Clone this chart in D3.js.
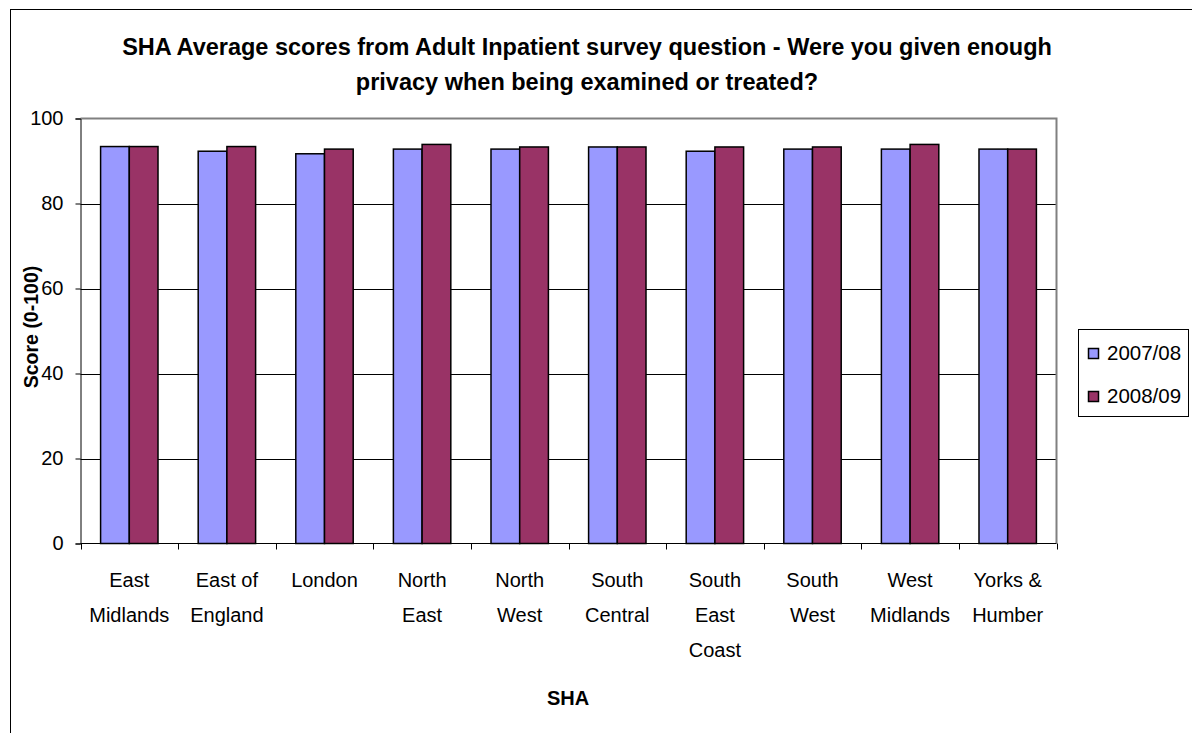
<!DOCTYPE html>
<html>
<head>
<meta charset="utf-8">
<script src="https://cdn.jsdelivr.net/npm/d3@7"></script>
<style>
  html, body { margin: 0; padding: 0; background: #fff; }
  svg { display: block; font-family: "Liberation Sans", Arial, sans-serif; }
</style>
</head>
<body>
<svg id="chart" width="1192" height="733"></svg>
<script>
// Strategic Health Authorities and their average privacy scores
const categories = [
  ["East", "Midlands"],
  ["East of", "England"],
  ["London"],
  ["North", "East"],
  ["North", "West"],
  ["South", "Central"],
  ["South", "East", "Coast"],
  ["South", "West"],
  ["West", "Midlands"],
  ["Yorks &", "Humber"]
];
const series = ["2007/08", "2008/09"];
const values2007 = [93.4, 92.3, 91.7, 92.8, 92.8, 93.3, 92.3, 92.8, 92.8, 92.8];
const values2008 = [93.4, 93.4, 92.8, 93.9, 93.3, 93.3, 93.3, 93.3, 93.9, 92.8];
const yTicks = [0, 20, 40, 60, 80, 100];
const colors = ["#9999FF", "#993366"];

const svg = d3.select("#chart");

// Outer chart frame
svg.append("rect")
  .attr("x", 10.5).attr("y", 9.5)
  .attr("width", 1200).attr("height", 800)
  .attr("fill", "none").attr("stroke", "#000").attr("stroke-width", 1);

const plot = { left: 80.5, right: 1056.5, top: 118.5, bottom: 543.5 };

const x = d3.scaleBand()
  .domain(d3.range(categories.length))
  .range([plot.left, plot.right])
  .paddingInner(0).paddingOuter(0);

const x1 = d3.scaleBand()
  .domain(series)
  .range([0, x.bandwidth()])
  .paddingOuter(0.7).paddingInner(0);

const y = d3.scaleLinear().domain([0, 100]).range([plot.bottom, plot.top]);

// Gridlines
svg.append("g")
  .selectAll("line")
  .data(yTicks.filter(t => t > 0 && t < 100))
  .join("line")
  .attr("x1", plot.left).attr("x2", plot.right)
  .attr("y1", d => Math.round(y(d)) + 0.5).attr("y2", d => Math.round(y(d)) + 0.5)
  .attr("stroke", "#000").attr("stroke-width", 1);

// Plot area top and right border
svg.append("path")
  .attr("d", `M${plot.left},${plot.top}H${plot.right}V${plot.bottom}`)
  .attr("fill", "none").attr("stroke", "#808080").attr("stroke-width", 2);

// Bars
const rows = categories.map((c, i) => [values2007[i], values2008[i]]);
const groups = svg.append("g").selectAll("g")
  .data(rows)
  .join("g")
  .attr("transform", (d, i) => `translate(${x(i)},0)`);

groups.selectAll("rect")
  .data(d => d.map((v, j) => ({ v, s: series[j], j })))
  .join("rect")
  .attr("x", d => x1(d.s))
  .attr("y", d => y(d.v))
  .attr("width", x1.bandwidth())
  .attr("height", d => y(0) - y(d.v))
  .attr("fill", d => colors[d.j])
  .attr("stroke", "#000").attr("stroke-width", 1.5);

// Y axis
const yAxis = d3.axisLeft(y).tickValues(yTicks).tickSize(5).tickPadding(12);
const gy = svg.append("g")
  .attr("transform", `translate(${plot.left},0)`)
  .call(yAxis);
gy.select(".domain").attr("stroke", "#000");
gy.selectAll(".tick line").attr("stroke", "#000");
gy.selectAll(".tick text")
  .attr("font-size", 20).attr("fill", "#000")
  .attr("font-family", "Liberation Sans, Arial, sans-serif");

// X axis
const xAxisLine = svg.append("g");
xAxisLine.append("line")
  .attr("x1", plot.left).attr("x2", plot.right)
  .attr("y1", plot.bottom).attr("y2", plot.bottom)
  .attr("stroke", "#000").attr("stroke-width", 1);
xAxisLine.selectAll("line.tick")
  .data(d3.range(categories.length + 1))
  .join("line")
  .attr("class", "tick")
  .attr("x1", i => Math.round(plot.left + i * x.bandwidth()) + 0.5)
  .attr("x2", i => Math.round(plot.left + i * x.bandwidth()) + 0.5)
  .attr("y1", plot.bottom).attr("y2", plot.bottom + 6)
  .attr("stroke", "#000");

// Category labels
const catLabels = svg.append("g")
  .selectAll("text")
  .data(categories)
  .join("text")
  .attr("x", (d, i) => x(i) + x.bandwidth() / 2)
  .attr("y", 587)
  .attr("text-anchor", "middle")
  .attr("font-size", 20)
  .attr("fill", "#000");
catLabels.selectAll("tspan")
  .data(d => d)
  .join("tspan")
  .attr("x", function () { return d3.select(this.parentNode).attr("x"); })
  .attr("dy", (d, k) => k === 0 ? 0 : 35)
  .text(d => d);

// Title
const title = svg.append("text")
  .attr("text-anchor", "middle")
  .attr("font-size", 23.5).attr("font-weight", "bold").attr("fill", "#000");
title.append("tspan").attr("x", 587).attr("y", 55)
  .text("SHA Average scores from Adult Inpatient survey question - Were you given enough");
title.append("tspan").attr("x", 587).attr("y", 90)
  .text("privacy when being examined or treated?");

// Axis titles
svg.append("text")
  .attr("transform", `translate(38,327) rotate(-90)`)
  .attr("text-anchor", "middle")
  .attr("font-size", 19.5).attr("font-weight", "bold")
  .text("Score (0-100)");

svg.append("text")
  .attr("x", 568).attr("y", 705)
  .attr("text-anchor", "middle")
  .attr("font-size", 20).attr("font-weight", "bold")
  .text("SHA");

// Legend
const legend = svg.append("g");
legend.append("rect")
  .attr("x", 1078.5).attr("y", 329.5)
  .attr("width", 110).attr("height", 87)
  .attr("fill", "#fff").attr("stroke", "#000").attr("stroke-width", 1);
const items = legend.selectAll("g.item")
  .data(series)
  .join("g")
  .attr("class", "item")
  .attr("transform", (d, i) => `translate(1088,${360 + i * 43})`);
items.append("rect")
  .attr("x", 0.5).attr("y", -11.5)
  .attr("width", 10).attr("height", 10)
  .attr("fill", (d, i) => colors[i])
  .attr("stroke", "#000").attr("stroke-width", 1.5);
items.append("text")
  .attr("x", 19).attr("y", 0)
  .attr("font-size", 20.5).attr("fill", "#000")
  .text(d => d);
</script>
</body>
</html>
